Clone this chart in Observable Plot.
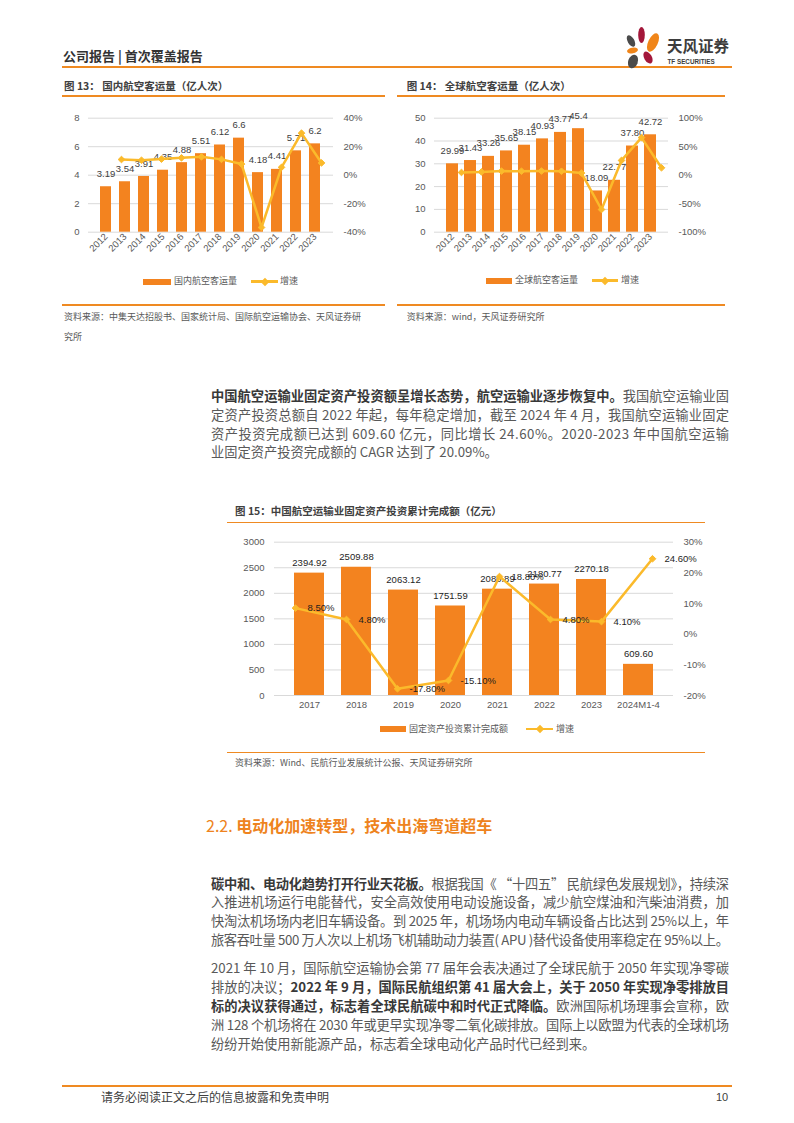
<!DOCTYPE html>
<html><head><meta charset="utf-8">
<script src="https://cdn.jsdelivr.net/npm/d3@7"></script>
<script src="https://cdn.jsdelivr.net/npm/@observablehq/plot@0.6"></script>
<style>
html,body{margin:0;padding:0;background:#fff;}
#page{position:relative;width:794px;height:1123px;overflow:hidden;font-family:"Noto Sans CJK SC","Liberation Sans",sans-serif;}
.t{position:absolute;white-space:nowrap;line-height:16px;height:16px;}
.hr{position:absolute;background:#EF8A22;}
.ttl{font-size:10.5px;font-weight:bold;color:#404040;}
.src{font-size:9px;color:#595959;}
.leg{font-size:9px;color:#595959;}
.para{font-size:13.25px;color:#595959;}
.para b{color:#383838;}
.chart{position:absolute;}
.chart svg{position:absolute;left:0;top:0;}
</style></head>
<body><div id="page"></div>
<script>
// ---------------- data ----------------
const years13 = ["2012","2013","2014","2015","2016","2017","2018","2019","2020","2021","2022","2023"];
const pax13 = [3.19,3.54,3.91,4.35,4.88,5.51,6.12,6.6,4.18,4.41,5.71,6.2];
const paxLabels13 = ["3.19","3.54","3.91","4.35","4.88","5.51","6.12","6.6","4.18","4.41","5.71","6.2"];
const growth13 = [null,11.0,10.5,11.3,12.2,12.9,11.1,7.8,-36.7,5.5,29.5,8.6];
const yTicks13 = [0,2,4,6,8];
const y2Ticks13 = [-40,-20,0,20,40];

const years14 = ["2012","2013","2014","2015","2016","2017","2018","2019","2020","2021","2022","2023"];
const pax14 = [29.99,31.43,33.26,35.65,38.15,40.93,43.77,45.4,18.09,22.77,37.80,42.72];
const paxLabels14 = ["29.99","31.43","33.26","35.65","38.15","40.93","43.77","45.4","18.09","22.77","37.80","42.72"];
const growth14 = [null,4.8,5.8,7.2,7.0,7.3,6.9,3.7,-60.2,25.9,66.0,13.0];
const yTicks14 = [0,10,20,30,40,50];
const y2Ticks14 = [-100,-50,0,50,100];

const years15 = ["2017","2018","2019","2020","2021","2022","2023","2024M1-4"];
const invest15 = [2394.92,2509.88,2063.12,1751.59,2080.89,2180.77,2270.18,609.60];
const investLabels15 = ["2394.92","2509.88","2063.12","1751.59","2080.89","2180.77","2270.18","609.60"];
const growth15 = [8.50,4.80,-17.80,-15.10,18.80,4.80,4.10,24.60];
const growthLabels15 = ["8.50%","4.80%","-17.80%","-15.10%","18.80%","4.80%","4.10%","24.60%"];
const yTicks15 = [0,500,1000,1500,2000,2500,3000];
const y2Ticks15 = [-20,-10,0,10,20,30];

const BAR = "#F3831F", LINE = "#FBBA2B", ORANGE = "#EF8A22";
const page = document.getElementById("page");

function el(tag, cls, style, html) {
  const e = document.createElement(tag);
  if (cls) e.className = cls;
  Object.assign(e.style, style || {});
  if (html != null) e.innerHTML = html;
  page.appendChild(e);
  return e;
}
function txt(html, x, yc, cls, style) {
  return el("div", "t " + cls, Object.assign({left: x + "px", top: (yc - 8.5) + "px"}, style || {}), html);
}
function hr(x1, x2, y, h) {
  el("div", "hr", {left: x1 + "px", width: (x2 - x1) + "px", top: (y - (h || 1.5) / 2) + "px", height: (h || 1.5) + "px"});
}
function legend(x1, x2, label, x3, x4, x5, yc) {
  el("div", "", {position: "absolute", left: x1 + "px", width: (x2 - x1) + "px", top: (yc - 3) + "px", height: "6px", background: BAR});
  txt(label, x2 + 3, yc, "leg");
  el("div", "", {position: "absolute", left: x3 + "px", width: (x4 - x3) + "px", top: (yc - 1.25) + "px", height: "2.5px", background: LINE});
  const m = (x3 + x4) / 2;
  el("div", "", {position: "absolute", left: (m - 3) + "px", top: (yc - 3) + "px", width: "6px", height: "6px", background: LINE, transform: "rotate(45deg)"});
  txt("增速", x5, yc, "leg");
}

function dual(cfg) {
  const data = cfg.cats.map((c, i) => ({cat: c, v: cfg.vals[i], vl: cfg.valLabels[i], g: cfg.growth[i], gl: cfg.growthLabels ? cfg.growthLabels[i] : ""}));
  const gdata = data.filter(d => d.g != null);
  const common = {
    width: cfg.width, height: cfg.height,
    marginTop: cfg.mt, marginRight: cfg.mr, marginBottom: cfg.mb, marginLeft: cfg.ml,
    style: {background: "transparent", fontFamily: "'Liberation Sans', Arial, sans-serif", fontSize: "9.5px", color: "#595959", overflow: "visible"}
  };
  const box = el("div", "chart", {left: cfg.left + "px", top: cfg.top + "px", width: cfg.width + "px", height: cfg.height + "px"});
  const bars = Plot.plot({
    ...common,
    x: {domain: cfg.cats, padding: cfg.padding, label: null},
    y: {domain: cfg.yDomain, label: null},
    marks: [
      Plot.gridY({ticks: cfg.yTicks, stroke: "#d9d9d9", strokeOpacity: 1, strokeWidth: 1}),
      Plot.barY(data, {x: "cat", y: "v", fill: BAR}),
      Plot.axisY({ticks: cfg.yTicks, tickSize: 0, tickPadding: cfg.yPad, tickFormat: d => String(d), label: null}),
      Plot.axisX({tickSize: 0, tickPadding: cfg.xPad, tickRotate: cfg.rotate || 0, label: null}),
      Plot.text(data, {x: "cat", y: "v", text: "vl", dy: cfg.labelDy, fill: cfg.labelColor})
    ]
  });
  const line = Plot.plot({
    ...common,
    x: {domain: cfg.cats, padding: cfg.padding, label: null, axis: null},
    y: {domain: cfg.y2Domain, label: null},
    marks: [
      Plot.line(gdata, {x: "cat", y: "g", stroke: LINE, strokeWidth: cfg.lw}),
      Plot.dot(gdata, {x: "cat", y: "g", symbol: "diamond2", r: 3, fill: LINE, stroke: LINE, strokeWidth: 1}),
      Plot.axisY({anchor: "right", ticks: cfg.y2Ticks, tickSize: 0, tickPadding: cfg.y2Pad, tickFormat: d => d + "%", label: null}),
      ...(cfg.growthLabels ? [Plot.text(gdata, {x: "cat", y: "g", text: "gl", dx: 12, textAnchor: "start", fill: "#1e1e1e"})] : [])
    ]
  });
  box.appendChild(bars);
  box.appendChild(line);
}

// ---------------- header ----------------
txt("公司报告 | 首次覆盖报告", 63, 56.7, "", {fontSize: "13px", fontWeight: "bold", color: "#333"});
hr(62, 732, 66.5, 2);
// logo
el("div", "", {position: "absolute", left: "620px", top: "22px", width: "120px", height: "50px"},
  `<svg width="120" height="50" viewBox="620 22 120 50">
    <ellipse cx="631" cy="41" rx="3.3" ry="6.3" fill="#4a4a4a" transform="rotate(-30 631 41)"/>
    <ellipse cx="641.5" cy="35" rx="3.3" ry="8" fill="#A3173A"/>
    <ellipse cx="653" cy="42.5" rx="4.8" ry="10" fill="#F08519" transform="rotate(25 653 42.5)"/>
    <ellipse cx="632.5" cy="50.5" rx="5.5" ry="2.8" fill="#F08519" transform="rotate(-10 632.5 50.5)"/>
    <ellipse cx="648" cy="57.5" rx="3.8" ry="6.5" fill="#A3173A" transform="rotate(-30 648 57.5)"/>
  </svg>`);
el("div", "", {position: "absolute", left: "620px", top: "50px", width: "40px", height: "30px"},
  `<svg width="40" height="30" viewBox="620 50 40 30"><ellipse cx="633" cy="61.5" rx="4.8" ry="7" fill="#4a4a4a" transform="rotate(20 633 61.5)"/></svg>`);
txt("天风证券", 667, 45.5, "", {fontSize: "15.5px", fontWeight: "bold", color: "#3d3d3d"});
txt("TF SECURITIES", 667.5, 62, "", {fontSize: "6.3px", fontWeight: "bold", color: "#3d3d3d", fontFamily: "'Liberation Sans', Arial, sans-serif"});

// ---------------- chart 13 ----------------
txt("图 13： 国内航空客运量（亿人次）", 64, 86, "ttl");
hr(62, 385, 96);
dual({left: 60, top: 100, width: 325, height: 172, mt: 17.7, mr: 52, mb: 40.3, ml: 28,
  cats: years13, vals: pax13, valLabels: paxLabels13, growth: growth13,
  yDomain: [0, 8], yTicks: yTicks13, y2Domain: [-40, 40], y2Ticks: y2Ticks13,
  padding: 0.41, rotate: -45, xPad: 3, yPad: 9, y2Pad: 10, labelDy: -13, labelColor: "#404040", lw: 2.5});
legend(143, 171, "国内航空客运量", 251, 278, 280, 281.7);
hr(62, 385, 305);
txt("资料来源：中集天达招股书、国家统计局、国际航空运输协会、天风证券研", 64, 317, "src");
txt("究所", 64, 337.7, "src");

// ---------------- chart 14 ----------------
txt("图 14： 全球航空客运量（亿人次）", 406.7, 86, "ttl");
hr(397, 725, 96);
dual({left: 395, top: 100, width: 332, height: 172, mt: 17.7, mr: 59, mb: 40.3, ml: 39,
  cats: years14, vals: pax14, valLabels: paxLabels14, growth: growth14,
  yDomain: [0, 50], yTicks: yTicks14, y2Domain: [-100, 100], y2Ticks: y2Ticks14,
  padding: 0.33, rotate: -45, xPad: 3, yPad: 9, y2Pad: 10, labelDy: -13, labelColor: "#404040", lw: 2.5});
legend(486, 512, "全球航空客运量", 592, 618, 621, 280.7);
hr(397, 725, 305);
txt("资料来源：wind，天风证券研究所", 406.7, 317, "src");

// ---------------- paragraph 1 ----------------
const W = 518, PX = 211;
function pline(html, yc, justify) {
  const e = txt(html, PX, yc - 0.7, "para");
  if (justify) e.dataset.j = "1";
  return e;
}
pline("<b>中国航空运输业固定资产投资额呈增长态势，航空运输业逐步恢复中。</b>我国航空运输业固", 396.7, true);
pline("定资产投资总额自 2022 年起，每年稳定增加，截至 2024 年 4 月，我国航空运输业固定", 416, true);
pline("资产投资完成额已达到 609.60 亿元，同比增长 24.60%。2020-2023 年中国航空运输", 435, true);
pline("业固定资产投资完成额的 CAGR 达到了 20.09%。", 453.5, false);

// ---------------- chart 15 ----------------
txt("图 15：中国航空运输业固定资产投资累计完成额（亿元）", 235, 511, "ttl");
hr(227, 705, 522.3);
dual({left: 226, top: 528, width: 484, height: 192, mt: 13.7, mr: 37, mb: 25, ml: 48,
  cats: years15, vals: invest15, valLabels: investLabels15, growth: growth15, growthLabels: growthLabels15,
  yDomain: [0, 3000], yTicks: yTicks15, y2Domain: [-20, 30], y2Ticks: y2Ticks15,
  padding: 0.36, rotate: 0, xPad: 6, yPad: 10, y2Pad: 10, labelDy: -10.5, labelColor: "#1e1e1e", lw: 2.5});
legend(380, 406, "固定资产投资累计完成额", 526, 553, 556, 729);
hr(227, 705, 752.3);
txt("资料来源：Wind、民航行业发展统计公报、天风证券研究所", 235, 763.3, "src");

// ---------------- section heading ----------------
txt("<span style='font-weight:normal'>2.2. </span>电动化加速转型，技术出海弯道超车", 206, 825, "", {fontSize: "16px", fontWeight: "bold", color: "#EE8320", height: "20px", lineHeight: "20px", top: (825 - 10.5) + "px"});

// ---------------- paragraphs 2 & 3 ----------------
pline("<b>碳中和、电动化趋势打开行业天花板。</b>根据我国《 “十四五” 民航绿色发展规划》，持续深", 885, true);
pline("入推进机场运行电能替代，安全高效使用电动设施设备，减少航空煤油和汽柴油消费，加", 903.6, true);
pline("快淘汰机场场内老旧车辆设备。到 2025 年，机场场内电动车辆设备占比达到 25%以上，年", 922.2, true);
pline("旅客吞吐量 500 万人次以上机场飞机辅助动力装置( APU )替代设备使用率稳定在 95%以上。", 941, true);
pline("2021 年 10 月，国际航空运输协会第 77 届年会表决通过了全球民航于 2050 年实现净零碳", 969, true);
pline("排放的决议；<b>2022 年 9 月，国际民航组织第 41 届大会上，关于 2050 年实现净零排放目</b>", 988, true);
pline("<b>标的决议获得通过，标志着全球民航碳中和时代正式降临。</b>欧洲国际机场理事会宣称，欧", 1007, true);
pline("洲 128 个机场将在 2030 年或更早实现净零二氧化碳排放。国际上以欧盟为代表的全球机场", 1026, true);
pline("纷纷开始使用新能源产品，标志着全球电动化产品时代已经到来。", 1045, false);

// ---------------- footer ----------------
hr(62, 732, 1086, 2);
txt("请务必阅读正文之后的信息披露和免责申明", 101, 1097, "", {fontSize: "12px", color: "#404040"});
txt("10", 716, 1097, "", {fontSize: "11px", color: "#404040", fontFamily: "'Liberation Sans', Arial, sans-serif"});

// justify lines to the text block width
document.querySelectorAll("[data-j]").forEach(e => {
  const w = e.getBoundingClientRect().width;
  const n = Array.from(e.textContent).length - 1;
  if (n > 0) e.style.letterSpacing = ((W - w) / n) + "px";
});
</script>
</body></html>
